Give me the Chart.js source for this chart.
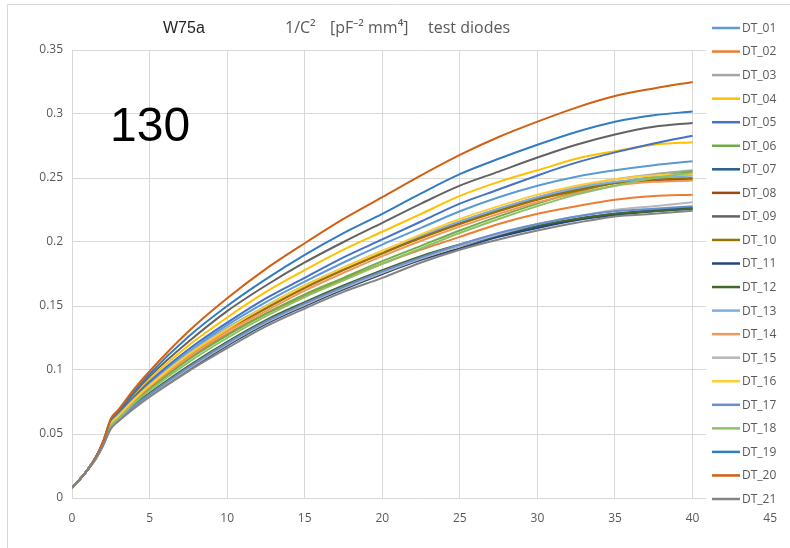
<!DOCTYPE html>
<html>
<head>
<meta charset="utf-8">
<title>W75a 1/C2 test diodes</title>
<script src="https://cdn.jsdelivr.net/npm/chart.js@4.4.1/dist/chart.umd.min.js"></script>
<style>
  body { margin: 0; background: #ffffff; }
</style>
</head>
<body>
<canvas id="myChart" width="790" height="548"></canvas>
<script>
// bias voltage points (x) and 1/C^2 readings per diode
var xValues = [0, 0.5, 1, 1.5, 2, 2.5, 3, 4, 5, 7.5, 10, 12.5, 15, 17.5, 20, 22.5, 25, 27.5, 30, 32.5, 35, 37.5, 40];

var dt01 = [0.008, 0.0145, 0.022, 0.031, 0.043, 0.059, 0.065, 0.078, 0.090, 0.114, 0.135, 0.153, 0.169, 0.184, 0.198, 0.211, 0.224, 0.235, 0.244, 0.251, 0.256, 0.260, 0.263];
var dt02 = [0.008, 0.0145, 0.022, 0.031, 0.043, 0.057, 0.063, 0.075, 0.086, 0.109, 0.128, 0.144, 0.158, 0.171, 0.183, 0.194, 0.204, 0.214, 0.222, 0.228, 0.233, 0.236, 0.237];
var dt03 = [0.008, 0.0145, 0.022, 0.031, 0.043, 0.058, 0.064, 0.077, 0.088, 0.112, 0.132, 0.149, 0.165, 0.179, 0.192, 0.204, 0.216, 0.226, 0.235, 0.243, 0.249, 0.253, 0.256];
var dt04 = [0.008, 0.0145, 0.022, 0.031, 0.043, 0.060, 0.066, 0.080, 0.093, 0.119, 0.141, 0.161, 0.178, 0.194, 0.208, 0.222, 0.236, 0.247, 0.256, 0.265, 0.271, 0.276, 0.278];
var dt05 = [0.008, 0.0145, 0.022, 0.031, 0.043, 0.059, 0.066, 0.079, 0.091, 0.116, 0.137, 0.156, 0.172, 0.188, 0.202, 0.216, 0.230, 0.241, 0.252, 0.262, 0.270, 0.277, 0.283];
var dt06 = [0.008, 0.0145, 0.022, 0.031, 0.042, 0.057, 0.063, 0.075, 0.085, 0.108, 0.127, 0.144, 0.159, 0.172, 0.185, 0.197, 0.209, 0.220, 0.230, 0.239, 0.246, 0.251, 0.255];
var dt07 = [0.008, 0.0145, 0.022, 0.031, 0.042, 0.056, 0.062, 0.072, 0.081, 0.102, 0.121, 0.138, 0.152, 0.165, 0.177, 0.188, 0.197, 0.205, 0.212, 0.218, 0.222, 0.225, 0.227];
var dt08 = [0.008, 0.0145, 0.022, 0.031, 0.043, 0.058, 0.064, 0.077, 0.088, 0.112, 0.132, 0.149, 0.165, 0.179, 0.192, 0.204, 0.215, 0.225, 0.234, 0.241, 0.246, 0.248, 0.249];
var dt09 = [0.008, 0.0145, 0.022, 0.031, 0.043, 0.060, 0.067, 0.082, 0.095, 0.122, 0.146, 0.166, 0.184, 0.200, 0.215, 0.230, 0.244, 0.255, 0.266, 0.276, 0.284, 0.290, 0.293];
var dt10 = [0.008, 0.0145, 0.022, 0.031, 0.042, 0.058, 0.064, 0.076, 0.087, 0.111, 0.131, 0.148, 0.164, 0.178, 0.191, 0.203, 0.214, 0.224, 0.233, 0.240, 0.246, 0.249, 0.250];
var dt11 = [0.008, 0.0145, 0.022, 0.030, 0.041, 0.055, 0.061, 0.071, 0.080, 0.100, 0.119, 0.136, 0.150, 0.163, 0.175, 0.186, 0.195, 0.204, 0.211, 0.217, 0.221, 0.224, 0.226];
var dt12 = [0.008, 0.0145, 0.022, 0.031, 0.042, 0.056, 0.062, 0.073, 0.082, 0.103, 0.122, 0.139, 0.153, 0.166, 0.178, 0.189, 0.198, 0.206, 0.213, 0.218, 0.222, 0.224, 0.226];
var dt13 = [0.008, 0.0145, 0.022, 0.031, 0.043, 0.058, 0.065, 0.077, 0.088, 0.113, 0.133, 0.150, 0.166, 0.180, 0.193, 0.205, 0.216, 0.226, 0.235, 0.242, 0.247, 0.250, 0.252];
var dt14 = [0.008, 0.0145, 0.022, 0.031, 0.042, 0.057, 0.063, 0.076, 0.087, 0.110, 0.130, 0.146, 0.162, 0.176, 0.189, 0.201, 0.212, 0.222, 0.231, 0.238, 0.244, 0.247, 0.248];
var dt15 = [0.008, 0.0145, 0.022, 0.030, 0.041, 0.055, 0.061, 0.071, 0.080, 0.101, 0.120, 0.137, 0.151, 0.164, 0.176, 0.187, 0.197, 0.206, 0.214, 0.220, 0.225, 0.228, 0.231];
var dt16 = [0.008, 0.0145, 0.022, 0.031, 0.043, 0.058, 0.064, 0.077, 0.088, 0.112, 0.132, 0.150, 0.166, 0.180, 0.193, 0.206, 0.218, 0.228, 0.237, 0.244, 0.249, 0.252, 0.253];
var dt17 = [0.008, 0.0145, 0.022, 0.031, 0.042, 0.056, 0.062, 0.072, 0.081, 0.102, 0.121, 0.138, 0.152, 0.165, 0.177, 0.188, 0.198, 0.207, 0.214, 0.220, 0.224, 0.226, 0.228];
var dt18 = [0.008, 0.0145, 0.022, 0.030, 0.042, 0.056, 0.062, 0.074, 0.084, 0.106, 0.125, 0.142, 0.157, 0.170, 0.183, 0.195, 0.207, 0.218, 0.228, 0.237, 0.244, 0.250, 0.254];
var dt19 = [0.008, 0.0145, 0.022, 0.031, 0.044, 0.061, 0.068, 0.083, 0.097, 0.126, 0.150, 0.171, 0.190, 0.207, 0.222, 0.238, 0.253, 0.265, 0.276, 0.286, 0.294, 0.299, 0.302];
var dt20 = [0.008, 0.0145, 0.022, 0.031, 0.044, 0.062, 0.069, 0.085, 0.099, 0.130, 0.156, 0.179, 0.199, 0.218, 0.235, 0.252, 0.268, 0.282, 0.294, 0.305, 0.314, 0.320, 0.325];
var dt21 = [0.008, 0.0145, 0.022, 0.030, 0.041, 0.054, 0.060, 0.070, 0.079, 0.099, 0.117, 0.134, 0.148, 0.161, 0.172, 0.184, 0.194, 0.202, 0.209, 0.215, 0.220, 0.222, 0.2245];

var seriesNames = ["DT_01", "DT_02", "DT_03", "DT_04", "DT_05", "DT_06", "DT_07", "DT_08", "DT_09", "DT_10",
    "DT_11", "DT_12", "DT_13", "DT_14", "DT_15", "DT_16", "DT_17", "DT_18", "DT_19", "DT_20", "DT_21"];
var seriesValues = [dt01, dt02, dt03, dt04, dt05, dt06, dt07, dt08, dt09, dt10,
    dt11, dt12, dt13, dt14, dt15, dt16, dt17, dt18, dt19, dt20, dt21];
var lineColors = [
    "#5b9bd5", "#ed7d31", "#a5a5a5", "#ffc000", "#4472c4", "#70ad47", "#255e91",
    "#9e480e", "#636363", "#997300", "#264478", "#43682b", "#7cafdd", "#f1975a",
    "#b7b7b7", "#ffcd33", "#698ed0", "#8cc168", "#327dc2", "#d26012", "#848484"
];

var xTicks = ["0", "5", "10", "15", "20", "25", "30", "35", "40", "45"];
var yTicks = ["0", "0.05", "0.1", "0.15", "0.2", "0.25", "0.3", "0.35"];

var datasets = seriesNames.map(function (name, i) {
    return {
        label: name,
        data: xValues.map(function (x, j) { return { x: x, y: seriesValues[i][j] }; }),
        borderColor: lineColors[i],
        backgroundColor: lineColors[i],
        borderWidth: 2,
        pointRadius: 0,
        cubicInterpolationMode: "monotone",
        order: seriesNames.length - i
    };
});

// frame, title, big label and the legend drawn over the plot like the original
var decorations = {
    id: "decorations",
    beforeDraw: function (chart) {
        var ctx = chart.ctx;
        ctx.save();
        ctx.strokeStyle = "#d9d9d9";
        ctx.lineWidth = 1;
        ctx.beginPath();
        ctx.moveTo(7.5, 548);
        ctx.lineTo(7.5, 4.5);
        ctx.lineTo(790, 4.5);
        ctx.stroke();
        ctx.restore();
    },
    afterDraw: function (chart) {
        var ctx = chart.ctx;
        ctx.save();
        ctx.fillStyle = "#ffffff";
        ctx.fillRect(706, 14, 84, 496);

        ctx.font = "12px 'Open Sans'";
        ctx.textBaseline = "middle";
        chart.data.datasets.forEach(function (ds, i) {
            var y = 28 + i * 23.55;
            ctx.strokeStyle = ds.borderColor;
            ctx.lineWidth = 2.5;
            ctx.beginPath();
            ctx.moveTo(712, y);
            ctx.lineTo(740, y);
            ctx.stroke();
            ctx.fillStyle = "#595959";
            ctx.fillText(ds.label, 742, y + 0.5);
        });

        ctx.textBaseline = "alphabetic";
        ctx.fillStyle = "#262626";
        ctx.font = "16px 'Liberation Sans'";
        ctx.fillText("W75a", 163, 33);
        ctx.fillStyle = "#595959";
        ctx.font = "16px 'Open Sans'";
        ctx.fillText("1/C\u00b2", 285, 33);
        ctx.fillText("[pF\u207b\u00b2 mm\u2074]", 330, 33);
        ctx.fillText("test diodes", 428, 33);

        ctx.fillStyle = "#000000";
        ctx.font = "48px 'Liberation Sans'";
        ctx.fillText("130", 110, 141);
        ctx.restore();
    }
};

new Chart("myChart", {
    type: "line",
    data: { datasets: datasets },
    options: {
        responsive: false,
        animation: false,
        layout: { padding: { left: 0, top: 50, right: 19, bottom: 0 } },
        plugins: {
            legend: { display: false },
            title: { display: false },
            tooltip: { enabled: false }
        },
        scales: {
            x: {
                type: "linear",
                min: 0,
                max: 45,
                afterFit: function (scale) { scale.height = 50; },
                afterBuildTicks: function (scale) {
                    scale.ticks = xTicks.map(function (t) { return { value: Number(t) }; });
                },
                ticks: {
                    color: "#595959",
                    font: { family: "'Open Sans'", size: 12 },
                    padding: 13,
                    maxRotation: 0,
                    callback: function (v, i) { return xTicks[i]; }
                },
                grid: { color: "#d9d9d9", drawTicks: false },
                border: { color: "#d9d9d9" }
            },
            y: {
                min: 0,
                max: 0.35,
                afterFit: function (scale) { scale.width = 72; },
                afterBuildTicks: function (scale) {
                    scale.ticks = yTicks.map(function (t) { return { value: Number(t) }; });
                },
                ticks: {
                    color: "#595959",
                    font: { family: "'Open Sans'", size: 12 },
                    padding: 9,
                    callback: function (v, i) { return yTicks[i]; }
                },
                grid: { color: "#d9d9d9", drawTicks: false },
                border: { color: "#d9d9d9" }
            }
        }
    },
    plugins: [decorations]
});
</script>
</body>
</html>
